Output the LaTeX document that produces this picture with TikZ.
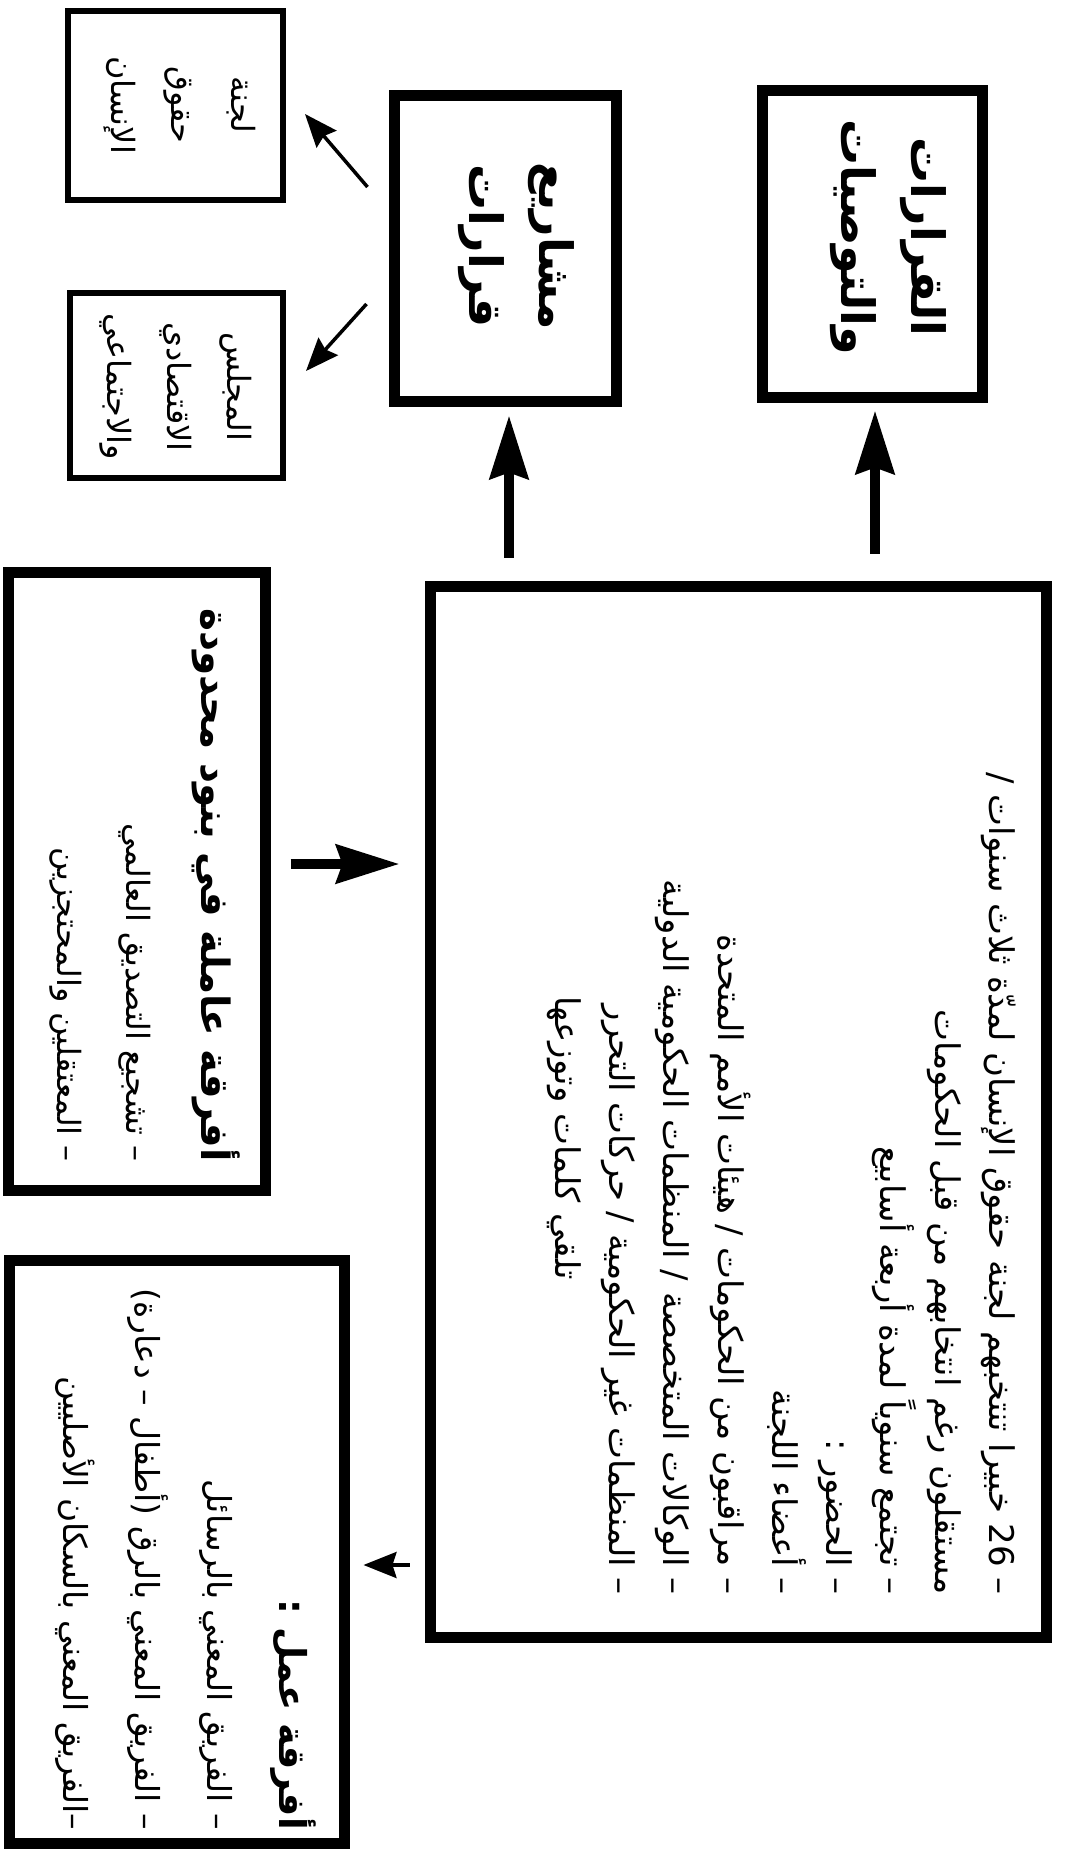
\documentclass[tikz,border=0pt]{standalone}
\usepackage{fontspec}
\newfontfamily\arabicfont[Script=Arabic]{DejaVu Sans}
\TeXXeTstate=1
\setlength{\lineskiplimit}{-100pt}
\usetikzlibrary{arrows.meta}

\tikzset{
  box/.style={draw, line width=11pt, inner sep=0pt},
  thinbox/.style={draw, line width=6pt, inner sep=0pt},
  txt/.style={rotate=-90, inner sep=0pt, font=\arabicfont\fontsize{32}{60}\selectfont},
  head/.style={rotate=-90, inner sep=0pt, align=center, font=\arabicfont\bfseries\fontsize{46}{70}\selectfont},
  bigarrow/.style={line width=10.5pt, -{Stealth[length=63pt,width=38pt,inset=6pt]}},
  thinarrow/.style={line width=3.5pt, -{Stealth[length=33pt,width=26pt,inset=4pt]}},
}

\begin{document}
\begin{tikzpicture}[x=1pt, y=-1pt]
\useasboundingbox (0,0) rectangle (1065,1849);

% boxes
\node[thinbox, minimum width=215pt, minimum height=189pt] (lajna) at (175.5,105.5) {};
\node[thinbox, minimum width=213pt, minimum height=185pt] (majlis) at (176.5,385.5) {};
\node[box, minimum width=222pt, minimum height=305pt] (mashari) at (505,248.5) {};
\node[box, minimum width=220pt, minimum height=306pt] (qararat) at (872,244) {};
\node[box, minimum width=616pt, minimum height=1051pt] (khubara) at (738,1111.5) {};
\node[box, minimum width=257pt, minimum height=618pt] (afriqa) at (136.5,881) {};
\node[box, minimum width=335pt, minimum height=583pt] (amal) at (176.5,1551.5) {};

% texts
\node[txt, align=center] (lajnatxt) at (180,105) {\beginR لجنة\endR\\ \beginR حقوق\endR\\ \beginR الإنسان\endR};
\node[txt, align=center] (majlistxt) at (176,387) {\beginR المجلس\endR\\ \beginR الاقتصادي\endR\\ \beginR والاجتماعي\endR};
\node[head] (masharitxt) at (516,246) {\beginR مشاريع\endR\\ \beginR قرارات\endR};
\node[head] (qararattxt) at (888,237) {\beginR القرارات\endR\\ \beginR والتوصيات\endR};

\node[txt, align=right, anchor=north east, font=\arabicfont\fontsize{34}{54.3}\selectfont] (khubaratxt) at (1016,1595) {%
\beginR – 26 خبيرا تنتخبهم لجنة حقوق الإنسان لمدّة ثلاث سنوات /\endR\\
\beginR مستقلون رغم انتخابهم من قبل الحكومات\endR\hspace*{4pt}\\
\beginR – تجتمع سنوياً لمدة أربعة أسابيع\endR\\
\beginR – الحضور :\endR\\
\beginR – أعضاء اللجنة\endR\hspace*{145pt}\\
\beginR – مراقبون من الحكومات / هيئات الأمم المتحدة\endR\hspace*{145pt}\\
\beginR – الوكالات المتخصصة / المنظمات الحكومية الدولية\endR\hspace*{145pt}\\
\beginR – المنظمات غير الحكومية / حركات التحرر\endR\hspace*{145pt}\\
\beginR تلقي كلمات وتوزعها\endR\hspace*{315pt}};

\node[txt, align=right, anchor=north east, font=\arabicfont\fontsize{32}{69}\selectfont] (afriqatxt) at (240,1162) {%
\beginR{\bfseries\fontsize{39}{40}\selectfont أفرقة عاملة في بنود محدودة}\endR\\[6pt]
\beginR – تشجيع التصديق العالمي\endR\\
\beginR – المعتقلين والمحتجزين\endR};

\node[txt, align=right, anchor=north east, font=\arabicfont\fontsize{33}{72}\selectfont] (amaltxt) at (316,1830) {%
\beginR{\bfseries\fontsize{37}{40}\selectfont أفرقة عمل :}\endR\\
\beginR – الفريق المعني بالرسائل\endR\\
\beginR – الفريق المعني بالرق (أطفال – دعارة)\endR\\
\beginR –الفريق المعني بالسكان الأصليين\endR};

% arrows
\draw[bigarrow, shorten <=23pt, shorten >=9pt] ([xshift=4pt]mashari.south |- khubara.north) -- ([xshift=4pt]mashari.south);
\draw[bigarrow, shorten <=27pt, shorten >=8pt] ([xshift=3pt]qararat.south |- khubara.north) -- ([xshift=3pt]qararat.south);
\draw[bigarrow, shorten <=20pt, shorten >=25pt] ([yshift=17pt]afriqa.east) -- ([yshift=17pt]afriqa.east -| khubara.west);
\draw[thinarrow, shorten <=15pt, shorten >=14pt] ([yshift=-13.5pt]amal.east -| khubara.west) -- ([yshift=-13.5pt]amal.east);
\draw[thinarrow] ([shift={(-21,-61.5)}]mashari.west) -- ([shift={(19,8.5)}]lajna.east);
\draw[thinarrow] ([shift={(-22,55.5)}]mashari.west) -- ([shift={(20,-14.5)}]majlis.east);
\end{tikzpicture}
\end{document}
